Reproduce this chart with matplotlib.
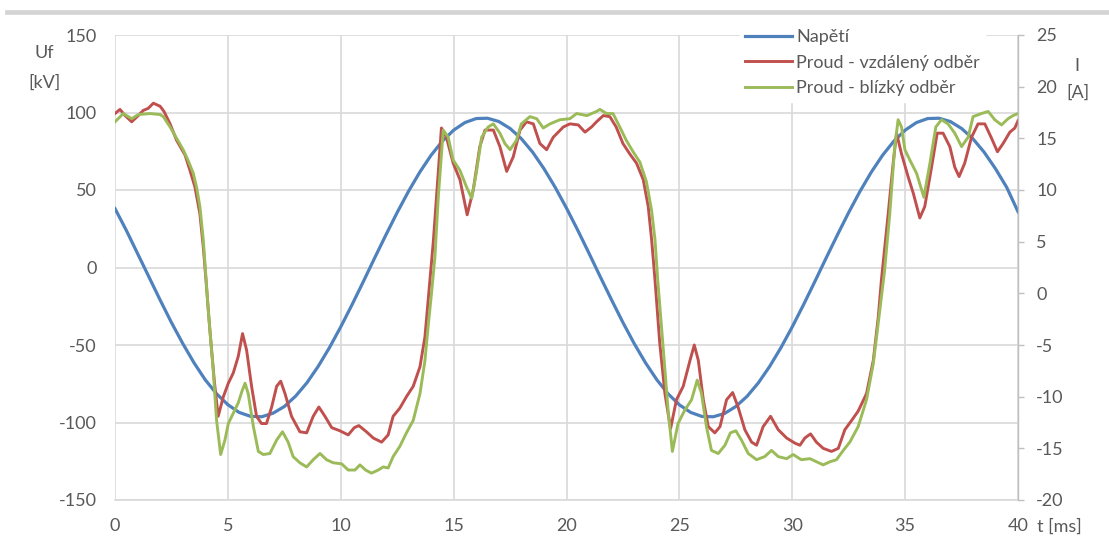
import numpy as np
import matplotlib
matplotlib.use("Agg")
import matplotlib.pyplot as plt
from matplotlib.lines import Line2D

# ── Colours ──────────────────────────────────────────────
BLUE = "#4f81bd"
RED = "#c0504d"
GREEN = "#9bbb59"
TEXT = "#595959"
GRID = "#d9d9d9"
SPINE = "#bfbfbf"

plt.rcParams["font.family"] = ["Lato", "DejaVu Sans"]
plt.rcParams["axes.unicode_minus"] = False

# ── Data ─────────────────────────────────────────────────
# voltage Uf [kV], sampled every 0.5 ms from 0 to 40 ms
t_volt = np.linspace(0, 40, 81)
u_volt = [38, 24, 9, -6, -21, -35.5, -49, -61.5, -72.5, -81.5,
          -88.5, -93.5, -96, -96.3, -94, -89.7, -83, -74.4, -63.8, -51.7,
          -38.3, -24, -9.1, 6.1, 21, 35.5, 49.1, 61.5, 72.4, 81.5,
          88.6, 93.5, 96.1, 96.3, 94.2, 89.7, 83.1, 74.4, 63.8, 51.7,
          38.3, 24, 9.1, -6.1, -21, -35.5, -49.1, -61.5, -72.4, -81.5,
          -88.6, -93.5, -96.1, -96.3, -94.2, -89.7, -83.1, -74.4, -63.8, -51.7,
          -38.3, -24, -9.1, 6.1, 21, 35.5, 49.1, 61.5, 72.4, 81.5,
          88.6, 93.5, 96.1, 96.3, 94.2, 89.7, 83.1, 74.4, 63.8, 51.7, 36]

# current, remote load [A]
t_red = [0.0, 0.22, 0.45, 0.74, 1.03, 1.25, 1.47, 1.70, 2.0, 2.17, 2.44, 2.73, 3.1, 3.32,
         3.54, 3.76, 3.91, 4.03, 4.2, 4.4, 4.57, 4.8, 5.02, 5.24, 5.46, 5.65, 5.83, 6.05,
         6.27, 6.49, 6.71, 6.94, 7.16, 7.34, 7.53, 7.82, 8.19, 8.49, 8.78, 9.03, 9.3, 9.6,
         9.96, 10.33, 10.6, 10.8, 11.14, 11.44, 11.81, 12.1, 12.32, 12.62, 12.91, 13.21,
         13.51, 13.73, 13.88, 13.95, 14.1, 14.24, 14.46, 14.68, 14.98, 15.28, 15.6, 15.87,
         16.16, 16.39, 16.76, 17.05, 17.35, 17.64, 17.94, 18.23, 18.53, 18.82, 19.12, 19.41,
         19.86, 20.15, 20.52, 20.82, 21.11, 21.33, 21.63, 21.92, 22.2, 22.5, 22.8, 23.1,
         23.4, 23.62, 23.77, 23.92, 24.13, 24.36, 24.61, 24.87, 25.17, 25.47, 25.66, 25.84,
         26.06, 26.28, 26.57, 26.8, 27.09, 27.36, 27.6, 27.9, 28.2, 28.42, 28.71, 29.04,
         29.38, 29.75, 30.12, 30.34, 30.56, 30.81, 31.07, 31.37, 31.74, 32.04, 32.33, 32.63,
         32.92, 33.29, 33.59, 33.81, 33.95, 34.25, 34.47, 34.62, 34.84, 35.13, 35.36, 35.65,
         35.87, 36.17, 36.42, 36.68, 36.98, 37.2, 37.39, 37.64, 37.94, 38.23, 38.53, 38.83,
         39.09, 39.34, 39.64, 39.86, 40.0]
i_red = [17.4, 17.8, 17.2, 16.6, 17.2, 17.7, 17.9, 18.4, 18.1, 17.6, 16.4, 14.8, 13.4, 11.9,
         10.3, 7.7, 4.5, 1.3, -3.5, -8.5, -11.9, -10.0, -8.7, -7.7, -6.1, -3.9, -5.5, -9.0,
         -11.9, -12.6, -12.6, -11.0, -9.0, -8.5, -9.7, -11.9, -13.4, -13.5, -11.9, -11.0, -11.9, -13.0,
         -13.3, -13.7, -13.0, -12.8, -13.4, -14.0, -14.4, -13.7, -11.9, -11.1, -10.0, -9.0,
         -7.1, -4.2, -0.5, 1.3, 5.0, 9.3, 16.0, 15.1, 12.6, 11.0, 7.6, 10.0,
         14.2, 15.8, 15.8, 14.2, 11.8, 13.2, 15.8, 16.6, 16.4, 14.5, 13.9, 15.1,
         16.1, 16.4, 16.3, 15.6, 16.1, 16.6, 17.2, 17.1, 16.1, 14.5, 13.5, 12.6,
         11.0, 8.4, 5.2, 1.3, -4.8, -9.7, -13.1, -10.3, -9.0, -6.5, -5.0, -6.5,
         -10.3, -12.9, -13.5, -12.9, -10.3, -9.6, -11.0, -13.2, -14.4, -14.7, -12.9, -11.9,
         -13.2, -14.0, -14.5, -14.7, -14.0, -13.6, -14.4, -15.0, -15.3, -15.0, -13.2, -12.3,
         -11.4, -9.7, -6.5, -2.3, 1.3, 7.7, 12.6, 15.5, 13.5, 11.3, 9.7, 7.3,
         8.4, 12.2, 15.5, 15.5, 14.2, 12.2, 11.3, 12.6, 15.1, 16.4, 16.4, 15.0,
         13.7, 14.5, 15.6, 16.0, 16.7]

# current, near load [A]
t_green = [0.0, 0.37, 0.74, 1.03, 1.55, 2.0, 2.14, 2.44, 2.73, 3.02, 3.25, 3.47, 3.62, 3.76,
           3.91, 4.03, 4.13, 4.35, 4.5, 4.68, 4.87, 5.02, 5.24, 5.46, 5.62, 5.76, 5.9, 6.13,
           6.35, 6.57, 6.86, 7.16, 7.42, 7.67, 7.89, 8.19, 8.49, 8.78, 9.08, 9.37, 9.67, 10.04,
           10.33, 10.63, 10.85, 11.1, 11.36, 11.66, 11.88, 12.1, 12.32, 12.62, 12.91, 13.21,
           13.51, 13.73, 13.88, 14.02, 14.17, 14.32, 14.54, 14.76, 14.98, 15.28, 15.57, 15.8,
           16.0, 16.24, 16.53, 16.76, 17.05, 17.27, 17.5, 17.78, 18.0, 18.38, 18.68, 18.97,
           19.27, 19.71, 20.15, 20.45, 20.9, 21.33, 21.48, 21.77, 22.06, 22.36, 22.65, 22.95,
           23.25, 23.54, 23.77, 23.92, 24.04, 24.28, 24.5, 24.69, 24.94, 25.24, 25.54, 25.79,
           25.98, 26.2, 26.42, 26.72, 27.02, 27.26, 27.5, 27.75, 28.05, 28.42, 28.78, 29.08,
           29.38, 29.75, 30.04, 30.4, 30.78, 31.07, 31.37, 31.67, 31.96, 32.26, 32.55, 32.92,
           33.29, 33.59, 33.88, 34.08, 34.32, 34.54, 34.69, 34.84, 34.99, 35.21, 35.51, 35.83,
           36.1, 36.36, 36.61, 36.9, 37.2, 37.5, 37.79, 38.01, 38.38, 38.68, 38.97, 39.27,
           39.56, 39.78, 40.0]
i_green = [16.6, 17.4, 16.9, 17.3, 17.4, 17.3, 17.1, 16.1, 15.0, 13.9, 12.8, 11.6, 10.2, 8.4,
           5.2, 1.5, -1.6, -7.4, -12.3, -15.6, -14.2, -12.6, -11.6, -10.6, -9.5, -8.7, -9.7, -12.9,
           -15.3, -15.6, -15.5, -14.2, -13.4, -14.4, -15.8, -16.4, -16.8, -16.1, -15.5, -16.1, -16.4, -16.5,
           -17.1, -17.1, -16.6, -17.1, -17.4, -17.1, -16.8, -16.9, -15.8, -14.8, -13.5, -12.3,
           -9.7, -6.5, -3.0, 0.0, 3.5, 9.3, 15.8, 15.1, 12.9, 11.9, 10.3, 9.2,
           11.6, 15.1, 16.1, 16.4, 15.5, 14.5, 13.9, 14.8, 16.4, 17.1, 16.9, 16.0,
           16.4, 16.8, 16.9, 17.4, 17.2, 17.6, 17.8, 17.4, 17.4, 16.1, 14.8, 13.7,
           12.7, 10.8, 8.0, 5.2, 1.3, -5.2, -11.3, -15.3, -12.6, -11.3, -10.3, -8.4,
           -9.7, -12.9, -15.2, -15.5, -14.7, -13.5, -13.3, -14.2, -15.5, -16.1, -15.8, -15.2,
           -15.8, -16.0, -15.6, -16.1, -16.0, -16.3, -16.6, -16.3, -16.1, -15.2, -14.4, -12.9,
           -10.3, -6.8, -1.6, 2.0, 7.7, 14.2, 16.8, 16.1, 13.9, 12.9, 11.6, 9.3,
           12.6, 16.1, 16.8, 16.4, 15.5, 14.2, 15.1, 17.1, 17.4, 17.6, 16.8, 16.3,
           16.9, 17.2, 17.4]

x_ticks = [0, 5, 10, 15, 20, 25, 30, 35, 40]
u_ticks = [-150, -100, -50, 0, 50, 100, 150]
i_ticks = [-20, -15, -10, -5, 0, 5, 10, 15, 20, 25]
labels = ["Napětí", "Proud - vzdálený odběr", "Proud - blízký odběr"]

W, H = 1109, 536
fig = plt.figure(figsize=(W / 100, H / 100), dpi=100)
fig.patch.set_facecolor("white")

# grey strip along the top of the picture
fig.add_artist(Line2D([7 / W, 1.0], [1 - 11.7 / H, 1 - 11.7 / H], color="#d4d4d4",
                      linewidth=3.4, transform=fig.transFigure))

ax = fig.add_axes([115 / W, 1 - 500 / H, 903 / W, 465 / H])
ax2 = ax.twinx()

ax.plot(t_volt, u_volt, color=BLUE, linewidth=2.3, label=labels[0],
        solid_joinstyle="round")
ax2.plot(t_red, i_red, color=RED, linewidth=2.1, label=labels[1],
         solid_joinstyle="round")
ax2.plot(t_green, i_green, color=GREEN, linewidth=2.1, label=labels[2],
         solid_joinstyle="round")

ax.set_xlim(0, 40)
ax.set_ylim(-150, 150)
ax2.set_ylim(-20, 25)
ax.set_xticks(x_ticks)
ax.set_yticks(u_ticks)
ax2.set_yticks(i_ticks)

ax.grid(True, color=GRID, linewidth=1.2)
ax.set_axisbelow(True)
for s in ["top", "right", "left"]:
    ax.spines[s].set_visible(False)
    ax2.spines[s].set_visible(False)
ax.spines["bottom"].set_color(GRID)
ax.spines["bottom"].set_linewidth(1.2)
ax2.spines["bottom"].set_visible(False)
ax2.spines["right"].set_visible(True)
ax2.spines["right"].set_color(SPINE)
ax2.spines["right"].set_linewidth(1.0)

ax.tick_params(axis="y", length=0, pad=13, labelsize=13, labelcolor=TEXT)
ax.tick_params(axis="x", length=0, pad=13, labelsize=13, labelcolor=TEXT)
ax2.tick_params(axis="y", length=4, width=1.0, color=SPINE, pad=9, labelsize=13, labelcolor=TEXT)

# axis captions as in the original
fig.text(44 / W, 1 - 53 / H, "Uf", ha="center", va="center", fontsize=13, color=TEXT)
fig.text(44 / W, 1 - 83 / H, "[kV]", ha="center", va="center", fontsize=13, color=TEXT)
fig.text(1077 / W, 1 - 66 / H, "I", ha="center", va="center", fontsize=13, color=TEXT)
fig.text(1078 / W, 1 - 93 / H, "[A]", ha="center", va="center", fontsize=13, color=TEXT)
fig.text(1037 / W, 1 - 527 / H, "t [ms]", ha="left", va="center", fontsize=13, color=TEXT)

handles = ax.get_lines() + ax2.get_lines()
leg = ax2.legend(handles, labels, loc="upper left", bbox_to_anchor=(740 / W, 1 - 24 / H),
                 bbox_transform=fig.transFigure, frameon=True, fontsize=13,
                 handlelength=2.6, handletextpad=0.2, labelspacing=0.52,
                 borderpad=0.3, borderaxespad=0, fancybox=False)
leg.get_frame().set_facecolor("white")
leg.get_frame().set_edgecolor("white")
leg.get_frame().set_alpha(1)
for txt in leg.get_texts():
    txt.set_color(TEXT)

fig.savefig("out.png", dpi=100, facecolor="white")
